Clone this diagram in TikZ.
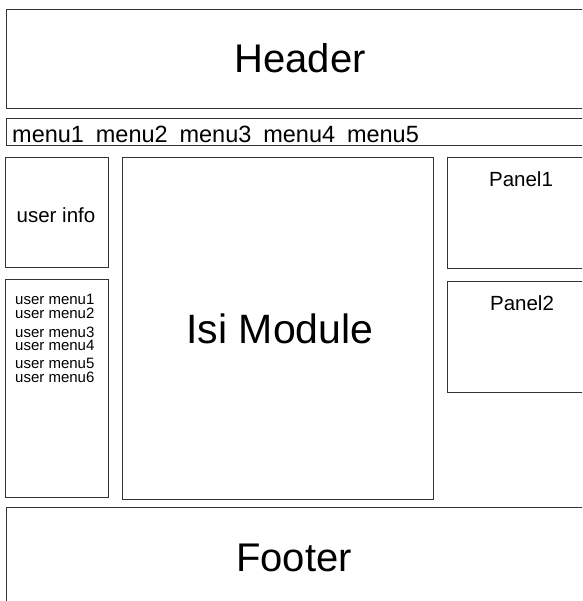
\documentclass[tikz,border=0pt]{standalone}
\usepackage{fontspec}
\setmainfont{Liberation Sans}
\usepackage{tikz}
\usetikzlibrary{positioning}

\tikzset{
  box/.style={draw=black!80, line width=1pt},
  bigtxt/.style={font=\fontsize{40}{48}\selectfont, inner sep=0pt, anchor=base},
  menutxt/.style={font=\fontsize{23.5}{28}\selectfont, inner sep=0pt, anchor=base west},
  midtxt/.style={font=\fontsize{20.5}{24}\selectfont, inner sep=0pt, anchor=base},
  smalltxt/.style={font=\fontsize{15}{18}\selectfont, inner sep=0pt, anchor=base west}
}

\begin{document}
\begin{tikzpicture}[x=1pt, y=-1pt]
\useasboundingbox (0,0) rectangle (582,601);
\fill[white] (0,0) rectangle (582,601);
\clip (0,0) rectangle (582,601);

% Header and menu bar
\draw[box] (6,10) rectangle (600,109);
\node[bigtxt] (header) at (300,73) {Header};
\draw[box] (6,119) rectangle (600,146);
\foreach \i in {1,...,5}
  \node[menutxt] (menu\i) at ({12+83.7*(\i-1)},142.5) {menu\i};

% Left column
\draw[box] (5,158) rectangle (108,267);
\node[midtxt] (userinfo) at (56,222.5) {user info};
\draw[box] (5,279) rectangle (108,497);
\foreach \i/\y in {1/304,2/318,3/337,4/350.5,5/368.5,6/382}
  \node[smalltxt] (umenu\i) at (15,\y) {user menu\i};

% Content area
\draw[box] (122,158) rectangle (433,499);
\node[bigtxt, font=\fontsize{41}{48}\selectfont] (isi) at (280,343) {Isi Module};

% Right panels
\draw[box] (447,158) rectangle (600,268);
\node[midtxt] (panel1) at (521,187) {Panel1};
\draw[box] (447,281) rectangle (600,392);
\node[midtxt] (panel2) at (522,310.5) {Panel2};

% Footer
\draw[box] (6,507) rectangle (600,620);
\node[bigtxt] (footer) at (294,571) {Footer};
\end{tikzpicture}
\end{document}
